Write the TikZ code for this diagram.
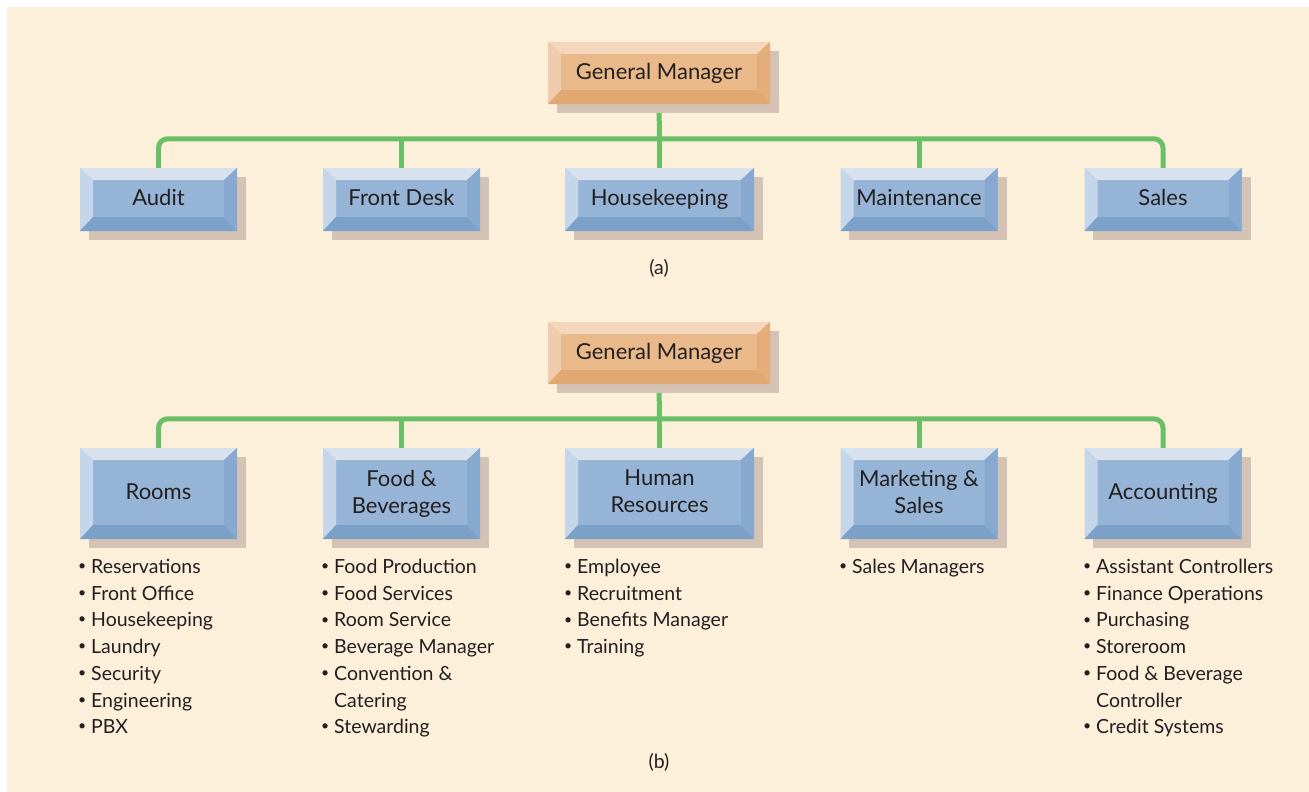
\documentclass[tikz,border=0pt]{standalone}
\usepackage{fontspec}
\setmainfont{Lato}
\usetikzlibrary{positioning,backgrounds}
\definecolor{cream}{HTML}{FDF0DB}
\definecolor{linkgreen}{HTML}{6BBF67}
\definecolor{ink}{HTML}{231F20}
\definecolor{shadowc}{HTML}{D4C3B4}
\definecolor{bluemid}{HTML}{96B4D6}
\definecolor{bluetop}{HTML}{D8E2EE}
\definecolor{blueleft}{HTML}{C6D6EA}
\definecolor{bluebot}{HTML}{7BA1C9}
\definecolor{blueright}{HTML}{87A9CF}
\definecolor{orgmid}{HTML}{E9B98A}
\definecolor{orgtop}{HTML}{F3D6BC}
\definecolor{orgleft}{HTML}{F0CCAF}
\definecolor{orgbot}{HTML}{E1A771}
\definecolor{orgright}{HTML}{E4AD79}
\newcommand\bul{\makebox[13pt][l]{\raisebox{0.3ex}{\fontsize{14}{14}\selectfont•}}}
\newcommand\cont{\hspace*{13pt}}
\begin{document}
\begin{tikzpicture}[x=1pt,y=-1pt,text=ink,
bevelled/.style n args={5}{fill=#1,inner sep=0pt,align=center,
  execute at begin node=\vphantom{Ag},execute at end node=\vphantom{Ag},
  path picture={
    \fill[#2] (path picture bounding box.north west) -- (path picture bounding box.north east)
      -- ([shift={(-13pt,-12pt)}]path picture bounding box.north east) -- ([shift={(13pt,-12pt)}]path picture bounding box.north west) -- cycle;
    \fill[#3] (path picture bounding box.north west) -- (path picture bounding box.south west)
      -- ([shift={(13pt,14pt)}]path picture bounding box.south west) -- ([shift={(13pt,-12pt)}]path picture bounding box.north west) -- cycle;
    \fill[#4] (path picture bounding box.south west) -- (path picture bounding box.south east)
      -- ([shift={(-13pt,14pt)}]path picture bounding box.south east) -- ([shift={(13pt,14pt)}]path picture bounding box.south west) -- cycle;
    \fill[#5] (path picture bounding box.north east) -- (path picture bounding box.south east)
      -- ([shift={(-13pt,14pt)}]path picture bounding box.south east) -- ([shift={(-13pt,-12pt)}]path picture bounding box.north east) -- cycle;
  }},
gm/.style={bevelled={orgmid}{orgtop}{orgleft}{orgbot}{orgright},minimum width=222pt,minimum height=62pt,font=\fontsize{22}{27}\selectfont},
dept/.style={bevelled={bluemid}{bluetop}{blueleft}{bluebot}{blueright},minimum width=157pt,minimum height=63pt,font=\fontsize{22}{27}\selectfont},
tall/.style={minimum height=91pt},
wide/.style={minimum width=189pt},
duties/.style={anchor=north west,align=left,inner sep=0pt,font=\fontsize{19.5}{26.7}\selectfont},
caption/.style={font=\fontsize{19.5}{24}\selectfont},
link/.style={linkgreen,line width=5pt,rounded corners=9pt}]
\useasboundingbox (0,0) rectangle (1309,792);
% (a)
\node[gm] (gmA) at (659,73) {General Manager};
\node[dept] (audit) at (158.5,199.5) {Audit};
\node[dept] (front) at (401.5,199.5) {Front Desk};
\node[dept,wide] (hk) at (659.5,199.5) {Housekeeping};
\node[dept] (maint) at (919,199.5) {Maintenance};
\node[dept] (sales) at (1163,199.5) {Sales};
\node[caption] (capA) at (659,268) {(a)};
% (b)
\node[gm] (gmB) at (659,353) {General Manager};
\node[dept,tall] (rooms) at (158.5,493.5) {Rooms};
\node[dept,tall] (food) at (401.5,493.5) {Food \&\\Beverages};
\node[dept,tall,wide] (hr) at (659.5,493.5) {Human\\Resources};
\node[dept,tall] (mkt) at (919,493.5) {Marketing \&\\Sales};
\node[dept,tall] (acct) at (1163,493.5) {Accounting};
\node[caption] (capB) at (659,762) {(b)};
% duty lists
\node[duties] (roomsL) at (78,559) {\bul Reservations\\\bul Front Office\\\bul Housekeeping\\\bul Laundry\\\bul Security\\\bul Engineering\\\bul PBX};
\node[duties] (foodL) at (321,559) {\bul Food Production\\\bul Food Services\\\bul Room Service\\\bul Beverage Manager\\\bul Convention \&\\\cont Catering\\\bul Stewarding};
\node[duties] (hrL) at (564,559) {\bul Employee\\\bul Recruitment\\\bul Benefits Manager\\\bul Training};
\node[duties] (mktL) at (839,559) {\bul Sales Managers};
\node[duties] (acctL) at (1083,559) {\bul Assistant Controllers\\\bul Finance Operations\\\bul Purchasing\\\bul Storeroom\\\bul Food \& Beverage\\\cont Controller\\\bul Credit Systems};
\begin{scope}[on background layer]
  \fill[cream] (7,7) rectangle (1309,792);
  \draw[link] (audit.north) -- ++(0,-29) -| (sales.north);
  \draw[link] (rooms.north) -- ++(0,-29) -| (acct.north);
  \foreach \n in {front,hk,maint,food,hr,mkt}
    \draw[link] (\n.north) -- ++(0,-29);
  \draw[link] (gmA.south) -- (hk.north |- 0,139);
  \draw[link] (gmB.south) -- (hr.north |- 0,419);
  \foreach \n in {gmA,audit,front,hk,maint,sales,gmB,rooms,food,hr,mkt,acct}
    \fill[shadowc] ([shift={(9pt,-9pt)}]\n.south west) rectangle ([shift={(9pt,-9pt)}]\n.north east);
\end{scope}
\end{tikzpicture}
\end{document}
